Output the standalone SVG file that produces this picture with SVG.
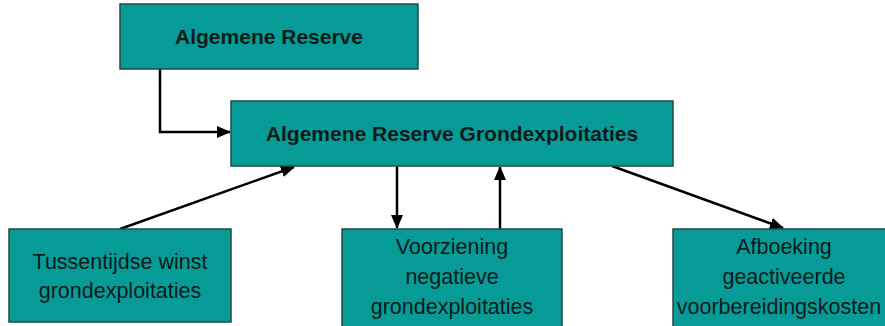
<svg xmlns="http://www.w3.org/2000/svg" width="885" height="326" viewBox="0 0 885 326">
<style>
  .box { fill: #079b98; stroke: #264848; stroke-width: 1.5; }
  .t { font-family: "Liberation Sans", Arial, sans-serif; fill: #0c1a1a; text-anchor: middle; }
  .b { font-weight: bold; font-size: 21px; }
  .r { font-size: 21.5px; }
  .c { stroke: #000; stroke-width: 2.5; fill: none; }
</style>
<defs>
  <marker id="ah" viewBox="0 0 14 12" refX="13" refY="6" markerWidth="14" markerHeight="12" markerUnits="userSpaceOnUse" orient="auto">
    <path d="M0,0 L14,6 L0,12 z" fill="#000"/>
  </marker>
</defs>
<rect width="885" height="326" fill="#fff"/>
<g id="connectors">
  <polyline class="c" points="160,69 160,132 230,132" marker-end="url(#ah)"/>
  <line class="c" x1="120" y1="229" x2="294" y2="167" marker-end="url(#ah)"/>
  <line class="c" x1="397" y1="166" x2="397" y2="228" marker-end="url(#ah)"/>
  <line class="c" x1="500" y1="229" x2="500" y2="167" marker-end="url(#ah)"/>
  <line class="c" x1="612" y1="166" x2="783" y2="228" marker-end="url(#ah)"/>
</g>
<g id="algemene-reserve">
  <rect class="box" x="120" y="4" width="298" height="65"/>
  <text class="t b" x="269" y="44">Algemene Reserve</text>
</g>
<g id="algemene-reserve-grondexploitaties">
  <rect class="box" x="231" y="101" width="442" height="65"/>
  <text class="t b" x="452" y="141">Algemene Reserve Grondexploitaties</text>
</g>
<g id="tussentijdse-winst">
  <rect class="box" x="9" y="229" width="222" height="93"/>
  <text class="t r" x="120" y="269">Tussentijdse winst</text>
  <text class="t r" x="120" y="298">grondexploitaties</text>
</g>
<g id="voorziening">
  <rect class="box" x="342" y="229" width="220" height="100"/>
  <text class="t r" x="452" y="254">Voorziening</text>
  <text class="t r" x="452" y="284">negatieve</text>
  <text class="t r" x="452" y="314">grondexploitaties</text>
</g>
<g id="afboeking">
  <rect class="box" x="673" y="229" width="230" height="100"/>
  <text class="t r" x="784" y="254">Afboeking</text>
  <text class="t r" x="784" y="284">geactiveerde</text>
  <text class="t r" x="779" y="314" font-size="21px">voorbereidingskosten</text>
</g>
</svg>
